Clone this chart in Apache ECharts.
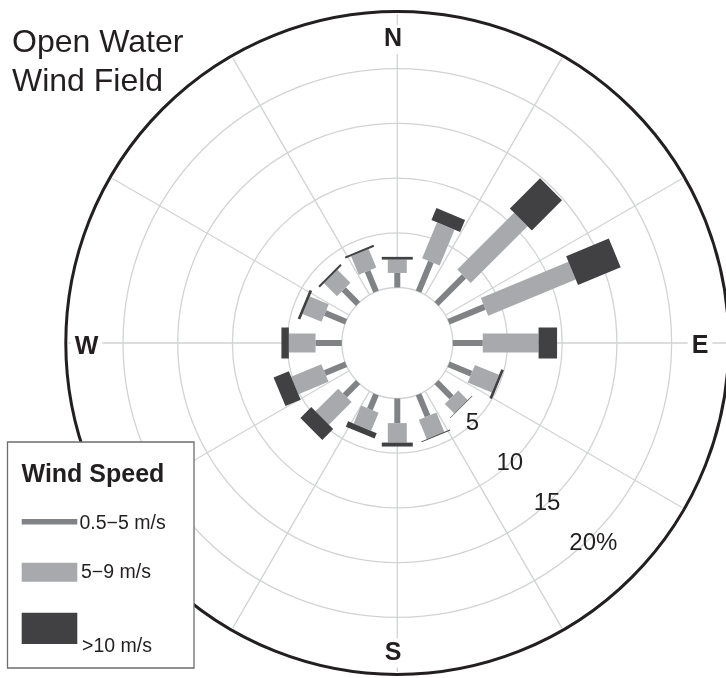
<!DOCTYPE html>
<html>
<head>
<meta charset="utf-8">
<title>Open Water Wind Field</title>
<script src="https://cdn.jsdelivr.net/npm/echarts@6/dist/echarts.min.js"></script>
<style>
  html, body { margin: 0; padding: 0; background: #fff; }
  #main { width: 726px; height: 678px; }
</style>
</head>
<body>
<div id="main"></div>
<script>
// wind directions, clockwise from north
var dirs = ['N', 'NNE', 'NE', 'ENE', 'E', 'ESE', 'SE', 'SSE', 'S', 'SSW', 'SW', 'WSW', 'W', 'WNW', 'NW', 'NNW'];
// frequency (%) per speed class
var low  = [1.33, 2.95, 3.55, 3.56, 2.74, 2.25, 1.94, 2.16, 2.25, 1.48, 1.70, 2.09, 2.40, 2.07, 1.85, 2.04]; // 0.5-5 m/s
var mid  = [1.22, 3.55, 7.35, 8.66, 5.10, 2.38, 1.22, 1.92, 1.78, 1.78, 2.93, 2.98, 2.44, 1.87, 1.68, 1.83]; // 5-9 m/s
var high = [0.25, 1.19, 3.90, 4.22, 1.69, 0.25, 0.06, 0.08, 0.36, 0.53, 1.41, 1.51, 0.68, 0.25, 0.18, 0.18]; // >10 m/s
// ring labels, one per 5 %
var ringLabels = ['', '5', '10', '15', '{pct|20%}', ''];
var classNames = ['0.5\u22125 m/s', '5\u22129 m/s', '>10 m/s'];

var CX = 397.3, CY = 343, R_IN = 55.5, R_OUT = 329, R_RIM = 331.5;
var FONT = '"Liberation Sans", Arial, Helvetica, sans-serif';
var INK = '#231f20';

var myChart = echarts.init(document.getElementById('main'));

// stack the three classes outwards
function stacked(vals, below) {
	return vals.map(function (v, i) {
		var base = 0;
		for (var k = 0; k < below.length; k++) base += below[k][i];
		return [i, base, base + v];
	});
}

// straight bar of constant pixel width along the direction spoke
function segment(width, color) {
	return function (params, api) {
		var a = api.value(0);
		var p0 = api.coord([api.value(1), a]);
		var p1 = api.coord([api.value(2), a]);
		var o = api.coord([0, a]), e = api.coord([25, a]);
		var ux = e[0] - o[0], uy = e[1] - o[1];
		var l = Math.sqrt(ux * ux + uy * uy);
		var nx = -uy / l * width / 2, ny = ux / l * width / 2;
		return {
			type: 'polygon',
			shape: { points: [
				[p0[0] + nx, p0[1] + ny], [p1[0] + nx, p1[1] + ny],
				[p1[0] - nx, p1[1] - ny], [p0[0] - nx, p0[1] - ny]
			] },
			style: { fill: color }
		};
	};
}

function txt(x, y, s, size, weight, align, bg) {
	var st = {
		text: s, fill: INK, font: (weight || 'normal') + ' ' + size + 'px ' + FONT,
		align: align || 'left', textAlign: align || 'left',
		verticalAlign: 'middle', textVerticalAlign: 'middle'
	};
	if (bg) { st.backgroundColor = bg; st.padding = [2, 4]; }
	return { type: 'text', x: x, y: y, z: 101, style: st };
}

var gridColor = '#d1d3d4';

option = {
	backgroundColor: '#fff',
	animation: false,
	polar: [
		{ center: [CX, CY], radius: [R_IN, R_OUT] },   // bars
		{ center: [CX, CY], radius: [R_IN, R_OUT] },   // grid
		{ center: [CX, CY], radius: [R_IN, R_OUT] },   // ring labels
		{ center: [CX, CY], radius: R_RIM }             // outer rim
	],
	angleAxis: [
		{
			polarIndex: 0, type: 'category', data: dirs, startAngle: 90 + 360 / dirs.length / 2,
			clockwise: true, boundaryGap: true,
			axisLine: { show: false }, axisTick: { show: false }, axisLabel: { show: false },
			splitLine: { show: false }, splitArea: { show: false }
		},
		{
			polarIndex: 1, type: 'value', min: 0, max: 360, interval: 30, startAngle: 90, clockwise: true,
			axisLine: { show: false }, axisTick: { show: false }, axisLabel: { show: false },
			splitLine: { show: true, lineStyle: { color: gridColor, width: 1.3 } }
		},
		{ polarIndex: 2, type: 'value', min: 0, max: 360, startAngle: -47, show: false },
		{
			polarIndex: 3, type: 'value', min: 0, max: 360, startAngle: 90, z: 3,
			axisLine: { show: true, lineStyle: { color: INK, width: 3 } },
			axisTick: { show: false }, axisLabel: { show: false }, splitLine: { show: false }
		}
	],
	radiusAxis: [
		{ polarIndex: 0, type: 'value', min: 0, max: 25, show: false },
		{
			polarIndex: 1, type: 'value', min: 0, max: 25, interval: 5,
			axisLine: { show: false }, axisTick: { show: false }, axisLabel: { show: false },
			splitLine: { show: true, lineStyle: { width: 1.3,
				color: [gridColor, gridColor, gridColor, gridColor, gridColor, 'rgba(0,0,0,0)'] } }
		},
		{
			polarIndex: 2, type: 'value', min: 0, max: 25, interval: 5,
			axisLine: { show: false }, axisTick: { show: false }, splitLine: { show: false },
			axisLabel: {
				show: true, margin: 0, align: 'center', verticalAlign: 'middle',
				fontSize: 24, fontFamily: FONT, color: INK,
				rich: { pct: { fontSize: 24, fontFamily: FONT, color: INK, padding: [0, 0, 0, 18] } },
				formatter: function (v) { return ringLabels[Math.round(v / 5)]; }
			}
		},
		{ polarIndex: 3, type: 'value', min: 0, max: 1, show: false }
	],
	series: [
		{ type: 'custom', name: classNames[0], coordinateSystem: 'polar', polarIndex: 0, silent: true,
		  encode: { angle: 0, radius: [1, 2] }, data: stacked(low, []), renderItem: segment(6, '#808285') },
		{ type: 'custom', name: classNames[1], coordinateSystem: 'polar', polarIndex: 0, silent: true,
		  encode: { angle: 0, radius: [1, 2] }, data: stacked(mid, [low]), renderItem: segment(19, '#a7a9ac') },
		{ type: 'custom', name: classNames[2], coordinateSystem: 'polar', polarIndex: 0, silent: true,
		  encode: { angle: 0, radius: [1, 2] }, data: stacked(high, [low, mid]), renderItem: segment(31, '#414042') }
	],
	graphic: [
		// title
		txt(12, 43.5, 'Open Water', 32),
		txt(12, 81.8, 'Wind Field', 32),
		// compass points
		txt(393, 39.5, 'N', 25, 'bold', 'center', '#fff'),
		txt(700, 346.5, 'E', 25, 'bold', 'center', '#fff'),
		txt(393, 653, 'S', 25, 'bold', 'center', '#fff'),
		txt(86.5, 347, 'W', 25, 'bold', 'center', '#fff'),
		// legend box
		{ type: 'rect', z: 100, shape: { x: 7.5, y: 442, width: 186.5, height: 226 },
		  style: { fill: '#fff', stroke: '#6d6e71', lineWidth: 1.3 } },
		txt(21.5, 475.5, 'Wind Speed', 25, 'bold'),
		{ type: 'rect', z: 101, shape: { x: 21.7, y: 519, width: 55.6, height: 5.5 }, style: { fill: '#808285' } },
		txt(79.5, 523.8, classNames[0], 19.5),
		{ type: 'rect', z: 101, shape: { x: 21.7, y: 562.7, width: 55.6, height: 19 }, style: { fill: '#a7a9ac' } },
		txt(81, 573, classNames[1], 19.5),
		{ type: 'rect', z: 101, shape: { x: 21.7, y: 612.7, width: 55.6, height: 31.3 }, style: { fill: '#414042' } },
		txt(82, 646.7, classNames[2], 19.5)
	]
};
myChart.setOption(option);
</script>
</body>
</html>
